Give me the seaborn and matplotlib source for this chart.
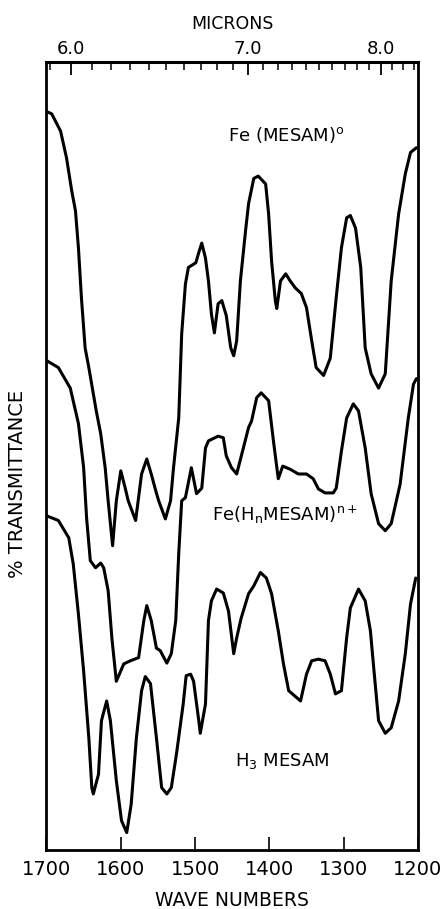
import numpy as np
import pandas as pd
import seaborn as sns
import matplotlib.pyplot as plt

# IR spectra (wave numbers vs. chart height in %)
wn_fe_mesam = [1700, 1693, 1681, 1673, 1666, 1661, 1657, 1653, 1648, 1643, 1633, 1627, 1621, 1617,
               1611, 1606, 1600, 1594, 1590, 1580, 1572, 1565, 1559, 1553, 1549, 1540, 1533, 1529,
               1522, 1518, 1513, 1509, 1499, 1495, 1491, 1486, 1482, 1478, 1474, 1469, 1464, 1458,
               1452, 1448, 1444, 1439, 1432, 1428, 1421, 1415, 1405, 1401, 1397, 1392, 1390, 1385,
               1378, 1372, 1365, 1357, 1350, 1343, 1337, 1327, 1318, 1310, 1303, 1296, 1291, 1284,
               1277, 1271, 1263, 1253, 1244, 1236, 1226, 1217, 1210, 1202]
t_fe_mesam = [93.7, 93.4, 91.2, 87.8, 83.6, 81.1, 76.4, 70.1, 63.7, 61.2, 55.7, 52.8, 48.5, 44.3,
              38.6, 44.3, 48.1, 45.9, 44.3, 41.8, 47.7, 49.6, 47.7, 45.6, 44.3, 42.0, 44.3, 48.5,
              54.8, 65.5, 71.8, 73.9, 74.5, 75.8, 77.0, 75.1, 72.2, 68.0, 65.6, 69.3, 69.7, 67.8,
              63.7, 62.7, 64.6, 72.2, 78.6, 82.0, 85.2, 85.5, 84.5, 80.7, 74.7, 69.7, 68.7, 72.2,
              73.1, 72.2, 71.3, 70.6, 68.8, 64.6, 61.2, 60.2, 62.4, 70.1, 76.4, 80.2, 80.5, 78.9,
              73.9, 63.7, 60.4, 58.6, 60.4, 72.2, 80.7, 85.8, 88.5, 89.1]

wn_fe_hn = [1700, 1684, 1668, 1657, 1650, 1646, 1641, 1634, 1627, 1623, 1617, 1612, 1606, 1596,
            1587, 1576, 1569, 1565, 1559, 1552, 1547, 1538, 1532, 1526, 1522, 1518, 1513, 1505,
            1498, 1491, 1486, 1482, 1469, 1462, 1458, 1451, 1444, 1435, 1428, 1424, 1417, 1411,
            1401, 1394, 1388, 1382, 1372, 1361, 1350, 1341, 1334, 1325, 1314, 1310, 1303, 1296,
            1287, 1280, 1271, 1263, 1253, 1244, 1236, 1224, 1213, 1206, 1202]
t_fe_hn = [62.1, 61.2, 58.6, 54.1, 48.5, 42.1, 36.7, 35.8, 36.4, 35.8, 32.9, 26.9, 21.4, 23.6,
           24.0, 24.4, 29.1, 31.0, 29.1, 25.6, 25.3, 23.7, 24.9, 29.1, 37.6, 44.3, 44.7, 48.5,
           45.2, 45.9, 51.0, 51.9, 52.5, 52.3, 50.0, 48.5, 47.7, 51.0, 53.6, 54.4, 57.4, 58.0,
           57.0, 51.5, 47.1, 48.7, 48.3, 47.7, 47.7, 47.1, 45.8, 45.3, 45.3, 45.9, 50.6, 54.8,
           56.6, 55.7, 51.0, 45.2, 41.4, 40.5, 41.4, 46.4, 54.8, 59.1, 59.8]

wn_h3 = [1700, 1684, 1670, 1664, 1657, 1650, 1643, 1639, 1637, 1630, 1626, 1619, 1614, 1606,
         1599, 1592, 1586, 1579, 1572, 1567, 1560, 1552, 1545, 1538, 1532, 1525, 1516, 1512,
         1506, 1502, 1495, 1493, 1486, 1482, 1478, 1471, 1462, 1455, 1448, 1444, 1438, 1428,
         1421, 1412, 1404, 1397, 1388, 1381, 1374, 1358, 1350, 1343, 1334, 1325, 1318, 1311,
         1303, 1296, 1291, 1280, 1271, 1264, 1260, 1253, 1244, 1236, 1226, 1217, 1210, 1203]
t_h3 = [42.4, 41.8, 39.6, 36.3, 29.9, 22.7, 14.2, 7.9, 7.1, 9.6, 16.4, 18.9, 16.4, 8.8,
        3.7, 2.2, 5.8, 14.2, 20.2, 22.0, 21.1, 14.2, 7.9, 7.1, 7.9, 12.2, 18.5, 22.1,
        22.3, 21.4, 16.4, 14.8, 18.5, 29.1, 31.6, 33.1, 32.6, 30.3, 24.9, 26.9, 29.4, 32.5,
        33.5, 35.2, 34.5, 32.5, 27.8, 23.6, 20.2, 18.9, 22.3, 24.0, 24.2, 24.0, 22.3, 19.8,
        20.2, 26.9, 30.7, 33.1, 31.6, 27.8, 23.6, 16.4, 14.8, 15.5, 18.9, 24.9, 31.2, 34.5]

wn_ticks = [1700, 1600, 1500, 1400, 1300, 1200]
micron_major = [6.0, 7.0, 8.0]
micron_labels = ["6.0", "7.0", "8.0"]
micron_minor = [5.9, 6.1, 6.2, 6.3, 6.4, 6.5, 6.6, 6.7, 6.8, 6.9, 7.1, 7.2, 7.3, 7.4,
                7.5, 7.6, 7.7, 7.8, 7.9, 8.1, 8.2, 8.3]

sns.set_style("ticks")
plt.rcParams['font.family'] = ['DejaVu Sans']
plt.rcParams['text.color'] = 'black'
plt.rcParams['axes.labelcolor'] = 'black'
plt.rcParams['xtick.color'] = 'black'

fig = plt.figure(figsize=(4.47, 9.09), dpi=100)
ax = fig.add_axes([0.104, 0.065, 0.831, 0.867])

for wn, t in [(wn_fe_mesam, t_fe_mesam), (wn_fe_hn, t_fe_hn), (wn_h3, t_h3)]:
    df = pd.DataFrame({"wn": wn, "t": t})
    sns.lineplot(data=df, x="wn", y="t", ax=ax, color="black", lw=2.2,
                 sort=False, estimator=None)

ax.set_xlim(1700, 1200)
ax.set_ylim(0, 100)
ax.set_yticks([])
ax.set_xticks(wn_ticks)
ax.set_xticklabels([str(w) for w in wn_ticks])
ax.tick_params(axis="x", direction="in", length=9.5, width=1.2, labelsize=14, pad=7)
ax.set_xlabel("WAVE NUMBERS", fontsize=13.5, labelpad=9)
ax.set_ylabel("% TRANSMITTANCE", fontsize=14, va="center")
ax.yaxis.set_label_coords(-0.078, 0.464)
for s in ax.spines.values():
    s.set_linewidth(2.0)
    s.set_color("black")


def to_micron(x):
    x = np.asarray(x, dtype=float)
    with np.errstate(divide="ignore"):
        return 1e4 / x


sec = ax.secondary_xaxis("top", functions=(to_micron, to_micron))
sec.set_xticks(micron_major)
sec.set_xticklabels(micron_labels)
sec.set_xticks(micron_minor, minor=True)
sec.tick_params(which="major", direction="in", length=9.5, width=1.3, labelsize=13, pad=3)
sec.tick_params(which="minor", direction="in", length=5.5, width=1.1)
sec.set_xlabel("MICRONS", fontsize=12.5, labelpad=8)
sec.spines["top"].set_linewidth(2.2)
sec.spines["top"].set_color("black")

ax.text(1456, 90.0, r"Fe (MESAM)$^{\mathrm{o}}$", fontsize=13, ha="left", va="baseline")
ax.text(1477, 41.8, r"Fe(H$_{\mathrm{n}}$MESAM)$^{\mathrm{n+}}$", fontsize=13,
        ha="left", va="baseline")
ax.text(1446, 10.7, r"H$_{3}$ MESAM", fontsize=13, ha="left", va="baseline")

fig.savefig("out.png", dpi=100)
